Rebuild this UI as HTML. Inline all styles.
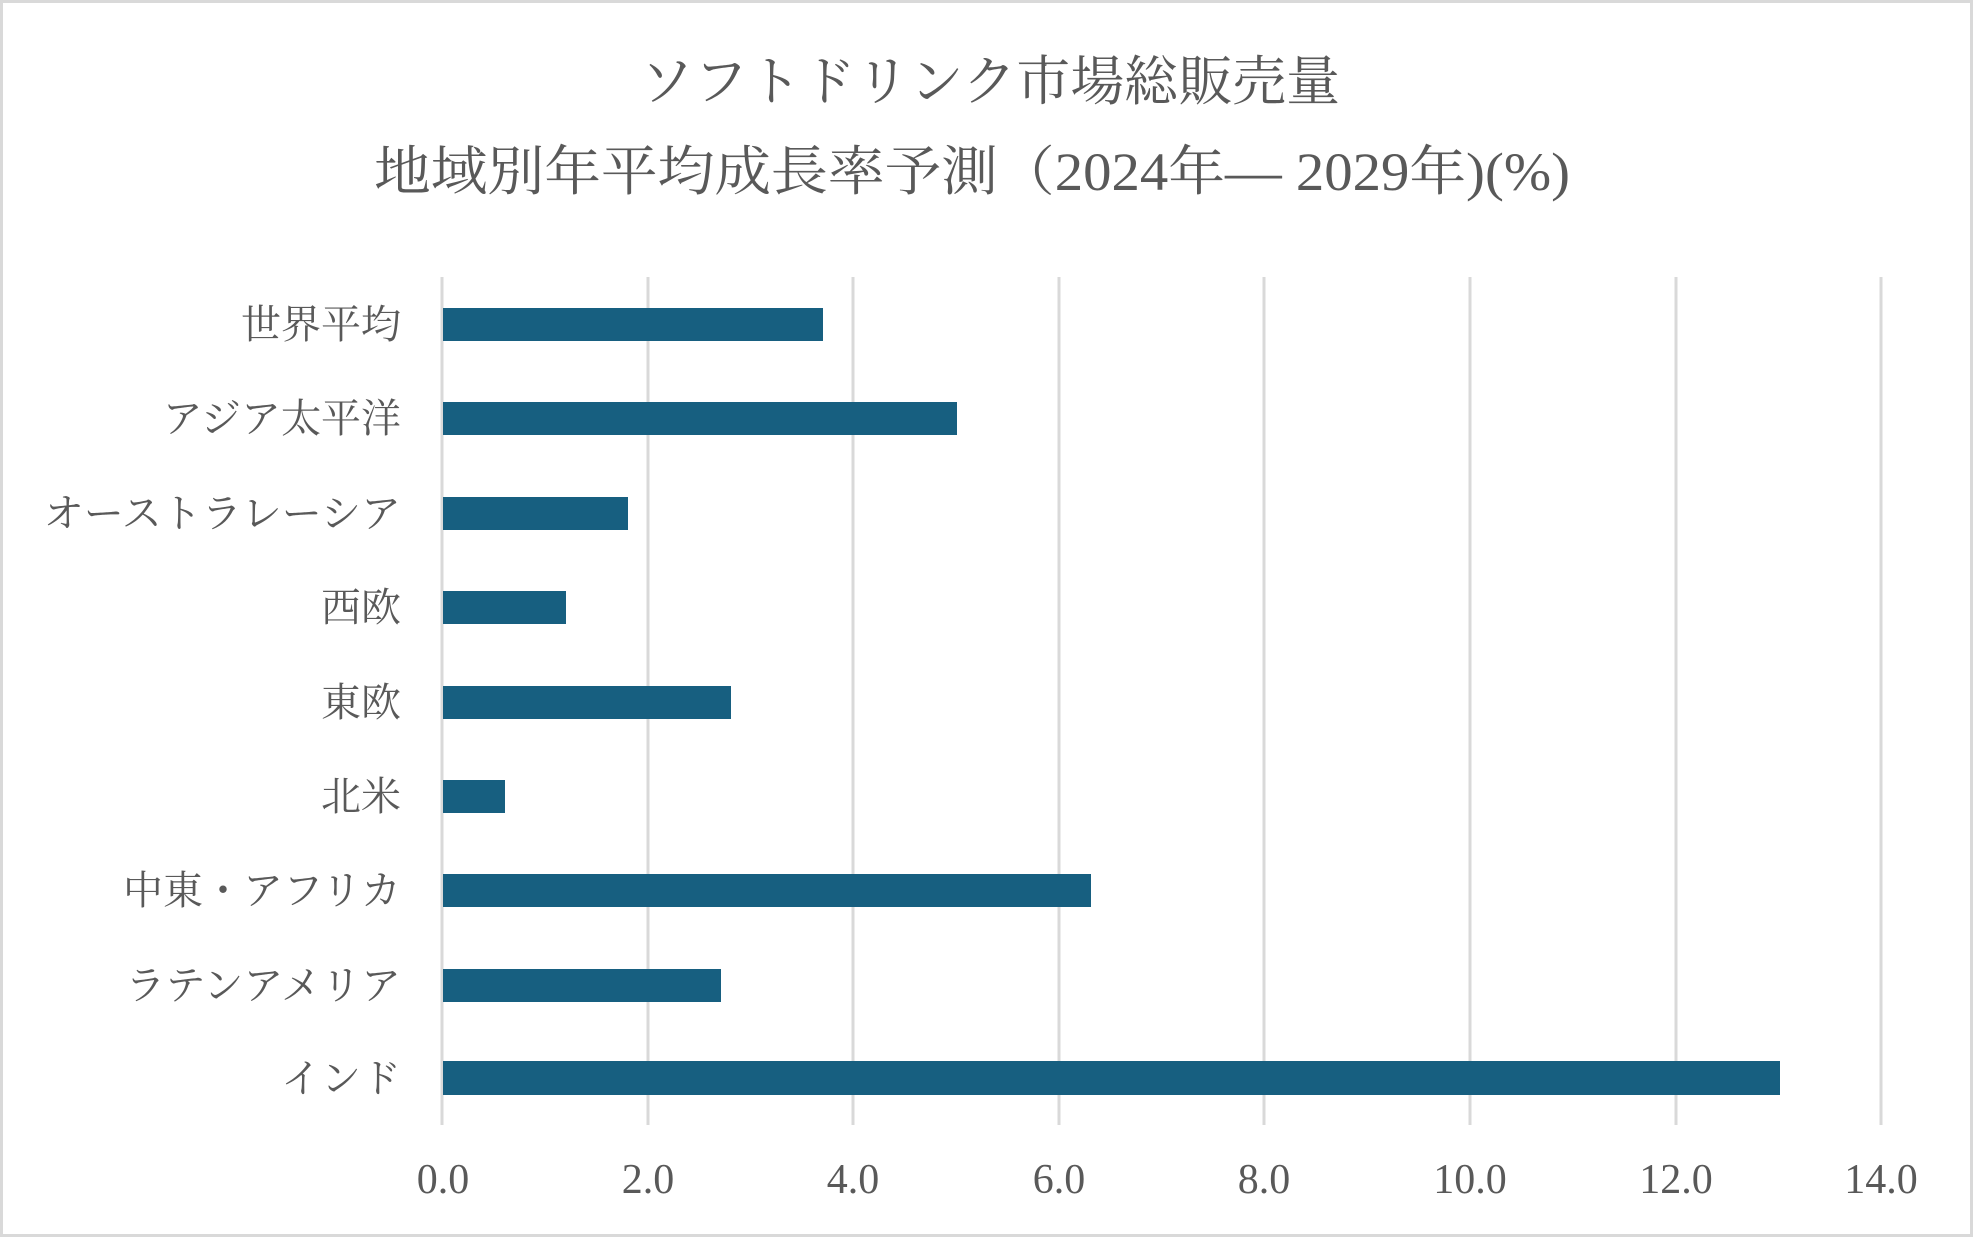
<!DOCTYPE html>
<html><head><meta charset="utf-8"><style>
html,body{margin:0;padding:0;background:#fff;}
svg{display:block;}
text{font-family:"Liberation Serif","Noto Serif CJK JP","Noto Serif CJK SC",serif;fill:#595959;}
</style></head><body>
<svg width="1973" height="1237" viewBox="0 0 1973 1237" xmlns="http://www.w3.org/2000/svg">
<rect x="1.5" y="1.5" width="1970" height="1234" fill="#fff" stroke="#d9d9d9" stroke-width="3"/>
<text x="990" y="100" font-size="54" text-anchor="middle" textLength="700" lengthAdjust="spacingAndGlyphs">ソフトドリンク市場総販売量</text>
<text x="972" y="190" font-size="54" text-anchor="middle" textLength="1196" lengthAdjust="spacingAndGlyphs">地域別年平均成長率予測（2024年— 2029年)(%)</text>
<g stroke="#d9d9d9" stroke-width="3">
<line x1="442" y1="277" x2="442" y2="1125"/>
<line x1="648" y1="277" x2="648" y2="1125"/>
<line x1="853" y1="277" x2="853" y2="1125"/>
<line x1="1059" y1="277" x2="1059" y2="1125"/>
<line x1="1264" y1="277" x2="1264" y2="1125"/>
<line x1="1470" y1="277" x2="1470" y2="1125"/>
<line x1="1676" y1="277" x2="1676" y2="1125"/>
<line x1="1881" y1="277" x2="1881" y2="1125"/>
</g>
<g fill="#175f80">
<rect x="443" y="308" width="380" height="33"/>
<rect x="443" y="402" width="514" height="33"/>
<rect x="443" y="497" width="185" height="33"/>
<rect x="443" y="591" width="123" height="33"/>
<rect x="443" y="686" width="288" height="33"/>
<rect x="443" y="780" width="62" height="33"/>
<rect x="443" y="874" width="648" height="33"/>
<rect x="443" y="969" width="278" height="33"/>
<rect x="443" y="1061" width="1337" height="34"/>
</g>
<g font-size="40" text-anchor="end">
<text x="401" y="338">世界平均</text>
<text x="401" y="432">アジア太平洋</text>
<text x="401" y="527">オーストラレーシア</text>
<text x="401" y="621">西欧</text>
<text x="401" y="716">東欧</text>
<text x="401" y="810">北米</text>
<text x="401" y="904">中東・アフリカ</text>
<text x="401" y="999">ラテンアメリア</text>
<text x="401" y="1092">インド</text>
</g>
<g font-size="42" text-anchor="middle">
<text x="443" y="1193">0.0</text>
<text x="648" y="1193">2.0</text>
<text x="853" y="1193">4.0</text>
<text x="1059" y="1193">6.0</text>
<text x="1264" y="1193">8.0</text>
<text x="1470" y="1193">10.0</text>
<text x="1676" y="1193">12.0</text>
<text x="1881" y="1193">14.0</text>
</g>
</svg>
</body></html>
